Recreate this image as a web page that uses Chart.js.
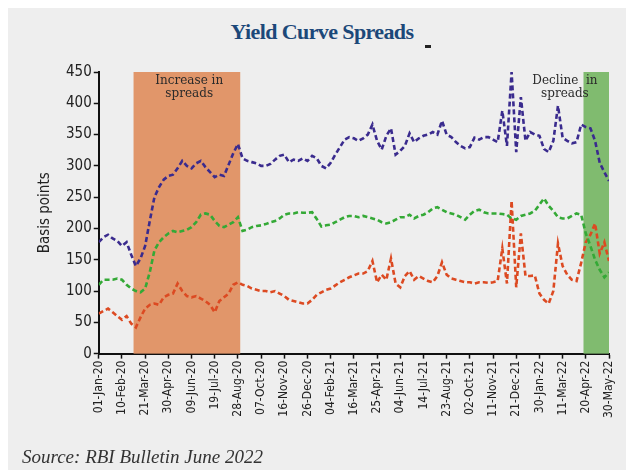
<!DOCTYPE html>
<html>
<head>
<meta charset="utf-8">
<script src="https://cdn.jsdelivr.net/npm/chart.js@4.4.1/dist/chart.umd.min.js"></script>
<style>
  body { margin: 0; background: #fff; }
  #wrap { position: relative; width: 626px; height: 470px; overflow: hidden; }
  #panel { position: absolute; left: 8px; top: 8px; width: 618px; height: 462px; background: #eeeeee; }
  #title { position: absolute; left: 0; width: 644px; top: 19px; text-align: center;
           font-family: "Liberation Serif", serif; font-weight: bold; font-size: 22px;
           color: #1c4879; letter-spacing: -0.6px; }
  #mark { position: absolute; left: 425px; top: 45px; width: 6px; height: 3px; background: #222; }
  #source { position: absolute; left: 22px; top: 446px; font-family: "Liberation Serif", serif;
            font-style: italic; font-size: 19px; color: #333; }
  canvas { position: absolute; left: 0; top: 0; }
</style>
</head>
<body>
<div id="wrap">
  <div id="panel"></div>
  <div id="title">Yield Curve Spreads</div>
  <div id="mark"></div>
  <canvas id="chart" width="626" height="470"></canvas>
  <div id="source">Source: RBI Bulletin June 2022</div>
</div>
<script>
// day offsets from 01-Jan-2020, sampled every 8 days
const days = [];
for (let d = 0; d <= 880; d += 8) days.push(d);

const tickLabels = ['01-Jan-20','10-Feb-20','21-Mar-20','30-Apr-20','09-Jun-20','19-Jul-20','28-Aug-20',
  '07-Oct-20','16-Nov-20','26-Dec-20','04-Feb-21','16-Mar-21','25-Apr-21','04-Jun-21','14-Jul-21',
  '23-Aug-21','02-Oct-21','11-Nov-21','21-Dec-21','30-Jan-22','11-Mar-22','20-Apr-22','30-May-22'];

const purple = [178,186,190,184,180,172,178,158,140,152,172,212,250,266,278,284,286,296,308,300,
  296,304,308,298,290,282,286,284,302,320,335,312,308,306,304,300,300,303,310,316,
  318,306,310,308,312,308,316,312,300,296,305,318,330,342,346,344,340,344,350,366,
  340,326,348,360,318,324,332,352,338,344,348,350,354,350,372,350,346,338,332,328,
  330,345,342,346,346,342,338,388,332,450,322,410,340,354,350,348,327,322,340,396,
  345,340,336,338,366,362,360,340,305,290,276];

const green = [110,118,118,118,120,118,110,104,100,98,104,130,165,178,186,192,196,194,196,198,
  202,210,222,224,222,212,204,202,206,210,218,196,198,202,204,205,207,210,212,216,
  222,224,224,226,225,225,226,215,203,205,206,210,214,218,220,220,218,220,218,216,
  214,210,208,210,214,218,218,222,216,220,222,226,232,234,230,226,224,222,218,214,
  222,228,230,226,224,224,224,223,222,216,214,220,222,224,228,238,248,236,228,218,
  216,216,220,224,222,192,172,150,134,122,130];

const red = [64,68,72,66,60,54,60,48,42,58,72,78,80,78,90,94,96,112,100,92,
  90,92,88,84,78,66,84,90,96,110,114,110,108,104,102,100,100,98,100,96,
  92,86,84,82,80,80,86,94,98,102,104,109,114,118,122,125,128,128,132,148,
  114,126,118,152,112,106,124,132,118,124,120,116,114,124,146,126,120,118,116,114,
  114,112,114,114,113,114,116,168,112,244,106,192,124,124,125,96,86,80,100,176,
  140,126,118,116,145,178,190,208,160,178,148];

// shaded periods [startDay, endDay] and their notes
const bands = [[60, 244], [836, 880]];
const bandColors = ['#e1966a', '#80bb6f'];
const bandNotes = [['Increase in', 'spreads'], ['Decline  in', 'spreads']];
const noteDays = [156, 804];

const toPts = vals => vals.map((v, i) => ({ x: days[i], y: v }));

const bandPlugin = {
  id: 'bands',
  beforeDatasetsDraw(chart) {
    const { ctx, scales: { x, y } } = chart;
    ctx.save();
    bands.forEach((b, i) => {
      const x0 = x.getPixelForValue(b[0]), x1 = x.getPixelForValue(b[1]);
      const y0 = y.getPixelForValue(450), y1 = y.getPixelForValue(0);
      ctx.fillStyle = bandColors[i];
      ctx.fillRect(x0, y0, x1 - x0, y1 - y0);
    });
    ctx.restore();
  },
  afterDatasetsDraw(chart) {
    const { ctx, scales: { x, y } } = chart;
    ctx.save();
    ctx.fillStyle = '#2a2a2a';
    ctx.font = '12px "DejaVu Serif", serif';
    ctx.textAlign = 'center';
    ctx.textBaseline = 'middle';
    bandNotes.forEach((lines, i) => {
      const px = x.getPixelForValue(noteDays[i]);
      lines.forEach((t, j) => ctx.fillText(t, px, y.getPixelForValue(436) + j * 13));
    });
    ctx.restore();
  }
};

const dashed = (data, color) => ({
  data: toPts(data),
  borderColor: color,
  borderWidth: 2.6,
  borderDash: [5, 3],
  pointRadius: 0,
  tension: 0,
  fill: false
});

new Chart(document.getElementById('chart'), {
  type: 'line',
  data: {
    datasets: [
      dashed(purple, '#3a2b8e'),
      dashed(green, '#34a936'),
      dashed(red, '#dc4a22')
    ]
  },
  options: {
    responsive: false,
    animation: false,
    layout: { padding: { left: 26, right: 17, top: 72, bottom: 50 } },
    plugins: { legend: { display: false }, tooltip: { enabled: false } },
    scales: {
      x: {
        type: 'linear',
        min: 0,
        max: 880,
        afterBuildTicks: axis => {
          axis.ticks = tickLabels.map((_, i) => ({ value: i * 40 }));
        },
        ticks: {
          autoSkip: false,
          minRotation: 90,
          maxRotation: 90,
          color: '#222',
          padding: 2,
          font: { family: '"DejaVu Sans Condensed", "Liberation Sans Narrow", sans-serif', size: 12 },
          callback: (v, i) => tickLabels[i]
        },
        grid: { drawOnChartArea: false, color: '#111', tickLength: 5, tickWidth: 1.5 },
        border: { color: '#111', width: 2 }
      },
      y: {
        min: 0,
        max: 450,
        ticks: {
          stepSize: 50,
          color: '#222',
          padding: 2,
          font: { family: '"DejaVu Sans Condensed", "Liberation Sans Narrow", sans-serif', size: 15 }
        },
        title: {
          display: true,
          text: 'Basis points',
          color: '#222',
          padding: 10,
          font: { family: '"DejaVu Sans Condensed", "Liberation Sans Narrow", sans-serif', size: 15 }
        },
        grid: { drawOnChartArea: false, color: '#111', tickLength: 5, tickWidth: 1.5 },
        border: { color: '#111', width: 2 }
      }
    }
  },
  plugins: [bandPlugin]
});
</script>
</body>
</html>
